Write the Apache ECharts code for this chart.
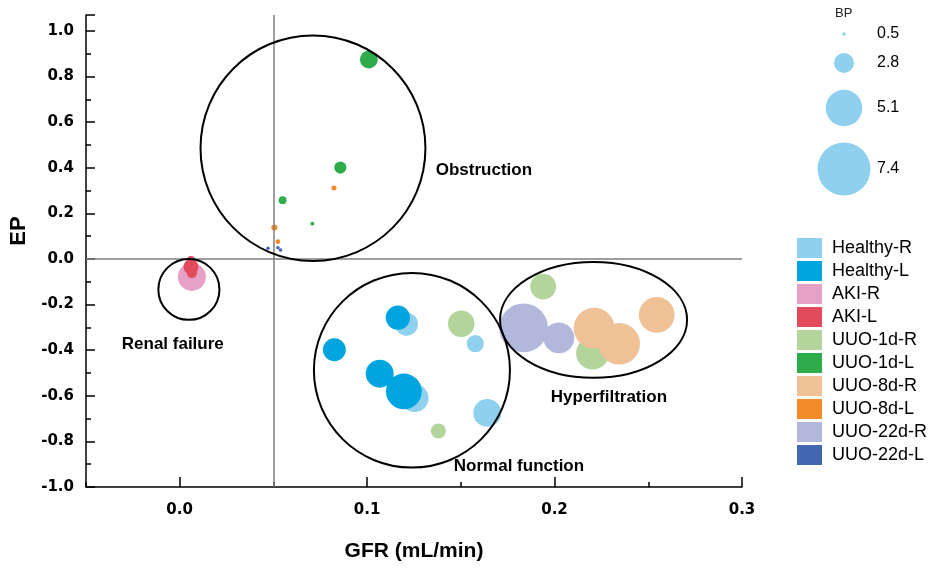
<!DOCTYPE html>
<html><head><meta charset="utf-8">
<script src="https://cdn.jsdelivr.net/npm/echarts@6/dist/echarts.min.js"></script>
<style>html,body{margin:0;padding:0;background:#fff}#c{width:935px;height:572px}</style>
</head><body><div id="c"></div>
<script>
// ---- data (x = GFR mL/min, y = EP, z = BP) ----
const groupNames = ['Healthy-R','Healthy-L','AKI-R','AKI-L','UUO-1d-R','UUO-1d-L','UUO-8d-R','UUO-8d-L','UUO-22d-R','UUO-22d-L'];
const healthyR = [[0.121,-0.286,3.2],[0.1577,-0.371,2.4],[0.1253,-0.610,3.9],[0.1641,-0.675,3.9]];
const healthyL = [[0.1164,-0.257,3.4],[0.0825,-0.398,3.2],[0.1067,-0.503,3.9],[0.1196,-0.581,5.0]];
const akiR = [[0.0065,-0.079,3.9]];
const akiL = [[0.006,-0.004,1.1],[0.006,-0.034,2.1],[0.0065,-0.062,1.4]];
const uuo1dR = [[0.1502,-0.284,3.7],[0.138,-0.754,2.1],[0.1939,-0.121,3.6],[0.2203,-0.413,4.6]];
const uuo1dL = [[0.1009,0.875,2.5],[0.0857,0.401,1.7],[0.0549,0.258,1.1],[0.0708,0.155,0.55]];
const uuo8dR = [[0.2211,-0.303,5.7],[0.2345,-0.372,5.8],[0.2545,-0.245,5.0]];
const uuo8dL = [[0.0823,0.311,0.7],[0.0505,0.138,0.85],[0.0524,0.076,0.65]];
const uuo22dR = [[0.1835,-0.302,6.8],[0.2023,-0.346,4.3]];
const uuo22dL = [[0.0471,0.047,0.5],[0.0524,0.049,0.5],[0.0538,0.039,0.5]];
const groupData = [healthyR,healthyL,akiR,akiL,uuo1dR,uuo1dL,uuo8dR,uuo8dL,uuo22dR,uuo22dL];
const groupColors = ['#8FD0EE','#00A5DF','#E6A1C6','#E14B5C','#B3D59B','#2EAB4B','#F0C196','#F28B28','#B1B8DC','#4467B1'];
// region ellipses: [centerX, centerY, radiusX, radiusY] in data units
const regions = [[0.0711,0.486,0.0600,0.4945],[0.0049,-0.1335,0.0163,0.1335],[0.1239,-0.488,0.0523,0.427],[0.2208,-0.267,0.0499,0.254]];
const regionLabels = [[0.1623,0.389,'Obstruction'],[-0.0037,-0.376,'Renal failure'],[0.181,-0.910,'Normal function'],[0.229,-0.608,'Hyperfiltration']];
const bpLegend = [0.5,2.8,5.1,7.4];
const xTicks = {min:-0.05,max:0.3,major:0.1,minor:0.05};
const yTicks = {min:-1.0,max:1.07,major:0.2};

const FONT = '"Liberation Sans", Arial, Helvetica, sans-serif';
const TICKFONT = '"DejaVu Sans", "Liberation Sans", Arial, sans-serif';
const bpToSize = bp => bp * 7.16;
const fmt = step => v => (Math.abs(Math.round(v/step) - v/step) < 1e-6) ? v.toFixed(1) : '';

const chart = echarts.init(document.getElementById('c'), null, {renderer:'canvas'});

const scatterSeries = groupNames.map((name, i) => ({
  name: name, type: 'scatter', xAxisIndex: 0, yAxisIndex: 0,
  data: groupData[i],
  symbolSize: d => bpToSize(d[2]),
  itemStyle: {color: groupColors[i], opacity: 1},
  z: 2,
  markLine: i === 0 ? {
    symbol: 'none', silent: true, animation: false,
    label: {show: false},
    lineStyle: {color: '#7f7f7f', width: 1.5, type: 'solid'},
    data: [{xAxis: 0.05}, {yAxis: 0}]
  } : undefined
}));

const axisLineStyle = {color: '#000', width: 1.5};
const labelStyle = {fontFamily: TICKFONT, fontWeight: 'bold', fontSize: 15, color: '#000'};

const sizeLegendY = [34, 63, 108, 169];
const graphics = [{type:'text', left: 835, top: 7, style:{text:'BP', font:'13px ' + FONT, fill:'#222'}}];
bpLegend.forEach((bp, i) => {
  graphics.push({type:'circle', shape:{cx:844, cy:sizeLegendY[i], r:bpToSize(bp)/2}, style:{fill:'#8FD0EE'}});
  graphics.push({type:'text', x:877, y:sizeLegendY[i], style:{text:bp.toFixed(1), font:'16px ' + FONT, fill:'#000', verticalAlign:'middle', align:'left'}});
});

chart.setOption({
  animation: false,
  backgroundColor: '#fff',
  grid: [
    {left: 86, right: 193, top: 15, bottom: 85, containLabel: false},
    {left: 86 + 655 * 0.05 / 0.35, right: 193, top: 15, bottom: 85, containLabel: false}
  ],
  xAxis: [
    {gridIndex: 0, type: 'value', min: xTicks.min, max: xTicks.max, interval: xTicks.minor,
     axisLine: {show: true, onZero: false, lineStyle: axisLineStyle},
     axisTick: {show: true, inside: true, length: 5, lineStyle: axisLineStyle},
     axisLabel: {show: false}, splitLine: {show: false},
     name: 'GFR (mL/min)', nameLocation: 'middle', nameGap: 54,
     nameTextStyle: {fontFamily: FONT, fontWeight: 'bold', fontSize: 21, color: '#000'}},
    {gridIndex: 1, type: 'value', min: 0, max: xTicks.max, interval: xTicks.major,
     axisLine: {show: false, onZero: false},
     axisTick: {show: true, inside: true, length: 10, lineStyle: axisLineStyle},
     axisLabel: Object.assign({margin: 16, formatter: fmt(xTicks.major)}, labelStyle),
     splitLine: {show: false}}
  ],
  yAxis: [
    {gridIndex: 0, type: 'value', min: yTicks.min, max: yTicks.max, interval: yTicks.major,
     axisLine: {show: true, onZero: false, lineStyle: axisLineStyle},
     axisTick: {show: true, inside: true, length: 9, lineStyle: axisLineStyle},
     minorTick: {show: true, splitNumber: 2, length: 5, lineStyle: axisLineStyle},
     axisLabel: Object.assign({margin: 12, formatter: fmt(yTicks.major)}, labelStyle),
     splitLine: {show: false},
     name: 'EP', nameLocation: 'middle', nameGap: 48,
     nameTextStyle: {fontFamily: FONT, fontWeight: 'bold', fontSize: 22, color: '#000', padding: [0,0,0,40]}},
    {gridIndex: 1, type: 'value', min: yTicks.min, max: yTicks.max, show: false}
  ],
  legend: {
    data: groupNames, orient: 'vertical', left: 797, top: 238, padding: 0,
    icon: 'rect', itemWidth: 25, itemHeight: 20, itemGap: 3,
    textStyle: {fontFamily: FONT, fontSize: 18, color: '#000', padding: [0,0,0,5]},
    selectedMode: false
  },
  graphic: graphics,
  series: scatterSeries.concat([
    {type: 'custom', name: 'regions', xAxisIndex: 0, yAxisIndex: 0, clip: false, silent: true, z: 5,
     data: regions, encode: {x: 0, y: 1},
     renderItem: (params, api) => {
       const c = api.coord([api.value(0), api.value(1)]);
       const s = api.size([api.value(2), api.value(3)]);
       return {type: 'ellipse', shape: {cx: c[0], cy: c[1], rx: s[0], ry: s[1]},
               style: {fill: null, stroke: '#000', lineWidth: 2}};
     }},
    {type: 'custom', name: 'regionLabels', xAxisIndex: 0, yAxisIndex: 0, clip: false, silent: true, z: 6,
     data: regionLabels.map(r => [r[0], r[1]]), encode: {x: 0, y: 1},
     renderItem: (params, api) => {
       const c = api.coord([api.value(0), api.value(1)]);
       return {type: 'text', x: c[0], y: c[1],
               style: {text: regionLabels[params.dataIndex][2], font: 'bold 17px ' + FONT, fill: '#000',
                       align: 'center', verticalAlign: 'middle'}};
     }}
  ])
});
</script></body></html>
